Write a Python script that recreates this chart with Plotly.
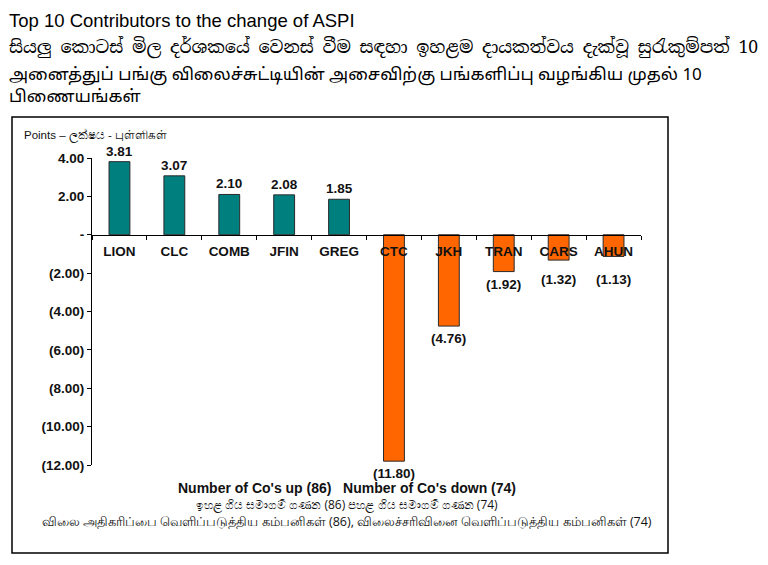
import plotly.graph_objects as go

companies = ["LION", "CLC", "COMB", "JFIN", "GREG", "CTC", "JKH", "TRAN", "CARS", "AHUN"]
points = [3.81, 3.07, 2.10, 2.08, 1.85, -11.80, -4.76, -1.92, -1.32, -1.13]
ytick_vals = [4, 2, 0, -2, -4, -6, -8, -10, -12]
ytick_text = ["4.00", "2.00", "-", "(2.00)", "(4.00)", "(6.00)", "(8.00)", "(10.00)", "(12.00)"]
y_range = [-12, 4]

title_en = "Top 10 Contributors to the change of ASPI"
title_si = "සියලු කොටස් මිල දර්ශකයේ වෙනස් වීම සඳහා ඉහළම දායකත්වය දැක්වූ සුරැකුම්පත් 10"
title_ta = "அனைத்துப் பங்கு விலைச்சுட்டியின் அசைவிற்கு பங்களிப்பு வழங்கிய முதல் 10<br>பிணையங்கள்"
ylabel = "Points – ලක්ෂය - புள்ளிகள்"
foot_en = "Number of Co's up (86)   Number of Co's down (74)"
foot_si = "ඉහළ ගිය සමාගම් ගණන (86) පහළ ගිය සමාගම් ගණන (74)"
foot_ta = "விலை அதிகரிப்பை வெளிப்படுத்திய கம்பனிகள் (86), விலைச்சரிவினை வெளிப்படுத்திய கம்பனிகள் (74)"

# page body has an 8px margin; compensate so the figure lands where the reference is
OFF = 8
W, H = 768 - OFF, 565 - OFF
ML, MT = 92 - OFF, 158 - OFF
MR = W - (641 - OFF)
MB = H - (465 - OFF)
PW, PH = W - ML - MR, H - MT - MB

def px(x):
    return (x - OFF - ML) / PW

def py(y):
    return (H - MB - (y - OFF)) / PH

colors = ["#007F7F" if v >= 0 else "#FF6600" for v in points]

fig = go.Figure(go.Bar(
    x=companies, y=points,
    marker=dict(color=colors, line=dict(color="#2a2a2a", width=1)),
    hoverinfo="skip",
))

AX = "Liberation Sans, Arial, sans-serif"
ann = []
for c, v in zip(companies, points):
    if v >= 0:
        ann.append(dict(x=c, y=v, xref="x", yref="y", text=f"{v:.2f}", showarrow=False,
                        yanchor="bottom", yshift=1,
                        font=dict(family=AX, size=13.5, color="#111", weight="bold")))
    else:
        ann.append(dict(x=c, y=min(v, -1.7), xref="x", yref="y", text=f"({abs(v):.2f})",
                        showarrow=False, yanchor="top", yshift=-3,
                        font=dict(family=AX, size=13.5, color="#111", weight="bold")))

ann += [
    dict(x=px(7), y=py(8), xref="paper", yref="paper", text=title_en, showarrow=False,
         xanchor="left", yanchor="top", font=dict(family=AX, size=18.5, color="#000")),
    dict(x=px(7), y=py(47), xref="paper", yref="paper", text=title_si, showarrow=False,
         xanchor="left", yanchor="middle",
         font=dict(family="Noto Serif Sinhala, Noto Sans Sinhala, Iskoola Pota, serif", size=17.5, color="#000")),
    dict(x=px(7), y=py(87), xref="paper", yref="paper", text=title_ta, showarrow=False,
         xanchor="left", yanchor="middle", align="left",
         font=dict(family="Noto Sans Tamil, Latha, sans-serif", size=17, color="#000")),
    dict(x=px(22), y=py(136), xref="paper", yref="paper", text=ylabel, showarrow=False,
         xanchor="left", yanchor="middle", font=dict(family=AX, size=11.5, color="#111")),
    dict(x=px(347), y=py(488), xref="paper", yref="paper", text=foot_en, showarrow=False,
         xanchor="center", yanchor="middle",
         font=dict(family="Liberation Sans Narrow, Arial Narrow, Liberation Sans, sans-serif",
                   size=14, color="#111", weight="bold")),
    dict(x=px(347), y=py(504), xref="paper", yref="paper", text=foot_si, showarrow=False,
         xanchor="center", yanchor="middle", font=dict(size=12, color="#111")),
    dict(x=px(347), y=py(521), xref="paper", yref="paper", text=foot_ta, showarrow=False,
         xanchor="center", yanchor="middle", font=dict(size=12.5, color="#111")),
]

fig.update_layout(
    width=W, height=H,
    margin=dict(l=ML, r=MR, t=MT, b=MB, pad=0),
    paper_bgcolor="white", plot_bgcolor="white",
    showlegend=False, bargap=0.62,
    annotations=ann,
    shapes=[dict(type="rect", xref="paper", yref="paper", x0=px(12), x1=px(668),
                 y0=py(553), y1=py(117), line=dict(color="#000", width=1.5), layer="below")],
    xaxis=dict(
        type="category", anchor="free",
        position=(0 - y_range[0]) / (y_range[1] - y_range[0]),
        showline=True, linecolor="#000", linewidth=1,
        ticks="outside", ticklen=4, tickcolor="#000", tickson="boundaries",
        showgrid=False, zeroline=False, ticklabelstandoff=4,
        tickfont=dict(family=AX, size=13.5, color="#111", weight="bold"),
        fixedrange=True,
    ),
    yaxis=dict(
        range=y_range, tickvals=ytick_vals, ticktext=ytick_text,
        showline=True, linecolor="#000", linewidth=1,
        ticks="outside", ticklen=4, tickcolor="#000",
        showgrid=False, zeroline=False,
        tickfont=dict(family=AX, size=13.5, color="#111", weight="bold"),
    ),
)

fig.write_html("out.html")
